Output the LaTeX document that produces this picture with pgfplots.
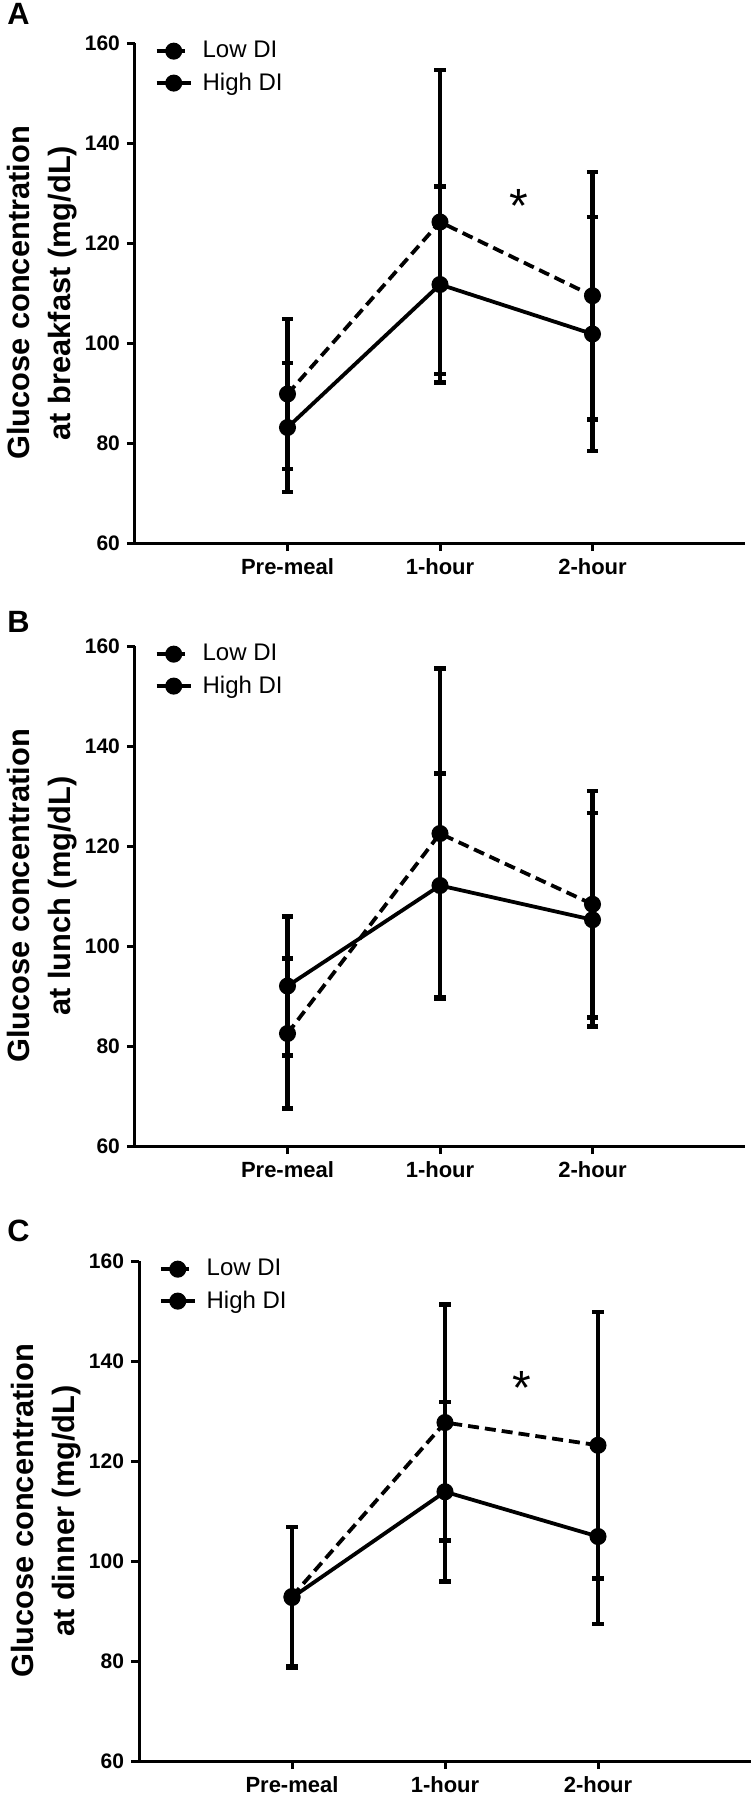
\documentclass[border=0pt]{standalone}
\usepackage{fontspec}
\setmainfont{Liberation Sans}
\usepackage{pgfplots}
\pgfplotsset{compat=1.18}

\pgfplotstableread{
x   y      e
0   89.8   15.0
1   124.2  30.4
2   109.45 24.75
}\breakLow
\pgfplotstableread{
x   y      e
0   83.1   12.9
1   111.7  19.65
2   101.8  23.4
}\breakHigh
\pgfplotstableread{
x   y      e
0   82.5   14.95
1   122.5  32.95
2   108.35 22.65
}\lunchLow
\pgfplotstableread{
x   y      e
0   92.0   13.9
1   112.1  22.4
2   105.25 21.35
}\lunchHigh
\pgfplotstableread{
x   y      e
0   92.9   13.9
1   127.7  23.6
2   123.15 26.65
}\dinnerLow
\pgfplotstableread{
x   y      e
0   92.7   14.1
1   113.85 17.95
2   104.9  17.5
}\dinnerHigh

\pgfplotsset{
  panel/.style={
    scale only axis, width=305pt, height=250pt,
    xmin=-1, xmax=3, ymin=60, ymax=160,
    axis lines=left, axis line style={-, line width=1.5pt},
    xtick={0,1,2}, xticklabels={Pre-meal,1-hour,2-hour},
    ytick={60,80,100,120,140,160},
    tick align=outside, major tick length=4pt,
    tick style={line width=1.5pt, black},
    /pgf/number format/assume math mode=true,
    yticklabel style={font=\fontsize{10.5}{12}\selectfont\bfseries},
    xticklabel style={font=\fontsize{11}{13}\selectfont\bfseries},
    ylabel style={align=center, font=\fontsize{15.4}{20.5}\selectfont\bfseries,
      at={(axis description cs:-0.1516,0.5)}, anchor=center},
    legend style={draw=none, fill=none, at={(axis description cs:0.022,1.02)},
      anchor=north west, font=\fontsize{12}{14}\selectfont, row sep=2pt,
      /tikz/every odd column/.append style={column sep=3pt}},
    legend cell align=left,
    legend image code/.code={\draw[mark repeat=2, mark phase=2, #1]
      plot coordinates {(0pt,0pt) (8.5pt,0pt) (17pt,0pt)};},
    clip=false,
  },
  lowdi/.style={black, line width=1.9pt, dash pattern=on 5.5pt off 3pt,
    mark=*, mark size=3.3pt, mark options={solid},
    error bars/y dir=both, error bars/y explicit,
    error bars/error bar style={solid, line width=2.3pt},
    error bars/error mark options={solid, rotate=90, mark size=2.8pt, line width=2.3pt}},
  highdi/.style={black, line width=1.9pt, solid,
    mark=*, mark size=3.3pt,
    error bars/y dir=both, error bars/y explicit,
    error bars/error bar style={solid, line width=2.3pt},
    error bars/error mark options={solid, rotate=90, mark size=2.8pt, line width=2.3pt}},
}

\begin{document}
\begin{tikzpicture}
\path[use as bounding box] (0,0) rectangle (377.5pt,-899pt);

% Panel A
\begin{axis}[panel, at={(67.5pt,-271.5pt)}, anchor=south west,
  ylabel={Glucose concentration\\at breakfast (mg/dL)}]
\addplot[lowdi] table[x=x, y=y, y error=e] {\breakLow};
\addlegendentry{Low DI}
\addplot[highdi] table[x=x, y=y, y error=e] {\breakHigh};
\addlegendentry{High DI}
\node[anchor=north, inner sep=0pt, font=\fontsize{24}{24}\selectfont] at (axis cs:1.52,130.8) {*};
\end{axis}

% Panel B
\begin{axis}[panel, at={(67.5pt,-573pt)}, anchor=south west,
  ylabel={Glucose concentration\\at lunch (mg/dL)}]
\addplot[lowdi] table[x=x, y=y, y error=e] {\lunchLow};
\addlegendentry{Low DI}
\addplot[highdi] table[x=x, y=y, y error=e] {\lunchHigh};
\addlegendentry{High DI}
\end{axis}

% Panel C
\begin{axis}[panel, width=306pt, at={(69.5pt,-880.5pt)}, anchor=south west,
  ylabel={Glucose concentration\\at dinner (mg/dL)}]
\addplot[lowdi] table[x=x, y=y, y error=e] {\dinnerLow};
\addlegendentry{Low DI}
\addplot[highdi] table[x=x, y=y, y error=e] {\dinnerHigh};
\addlegendentry{High DI}
\node[anchor=north, inner sep=0pt, font=\fontsize{24}{24}\selectfont] at (axis cs:1.5,138.0) {*};
\end{axis}

\node[anchor=west, inner sep=0pt, font=\fontsize{15.4}{16}\selectfont\bfseries] at (3.5pt,-7pt) {A};
\node[anchor=west, inner sep=0pt, font=\fontsize{15.4}{16}\selectfont\bfseries] at (3.5pt,-311pt) {B};
\node[anchor=west, inner sep=0pt, font=\fontsize{15.4}{16}\selectfont\bfseries] at (3.5pt,-615.5pt) {C};
\end{tikzpicture}
\end{document}
